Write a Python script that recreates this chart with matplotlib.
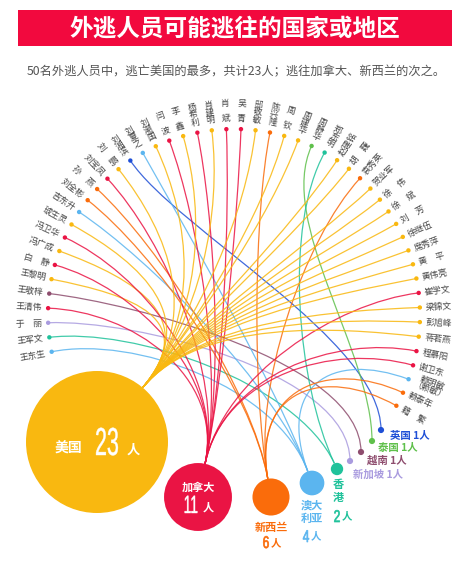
import numpy as np
import matplotlib
matplotlib.use("Agg")
import matplotlib.pyplot as plt
from matplotlib.patches import Circle, Rectangle, PathPatch
from matplotlib.path import Path
from matplotlib.textpath import TextPath
from matplotlib.font_manager import FontProperties
from matplotlib.transforms import Affine2D

plt.rcParams['font.family'] = ['Noto Sans CJK SC', 'DejaVu Sans']

# data
countries = ["美国", "加拿大", "新西兰", "澳大利亚", "香港", "新加坡", "越南", "泰国", "英国"]
counts = [23, 11, 6, 4, 2, 1, 1, 1, 1]
colors = ["#F9B810", "#EA1444", "#FA6C0B", "#5BB5EF", "#20C29B",
          "#A99BDF", "#8E4D6E", "#5FC04B", "#1F4FD6"]

names = ["王东生", "王军文", "于　丽", "王清伟", "王敬梓", "王黎明", "白　静", "冯广成", "冯卫华", "琥生灵",
         "吉东升", "刘全彬", "孙　燕", "刘宝凤", "刘　鹏", "刘湘滨", "刘夏之", "刘潮国", "闫　波", "李　鑫",
         "杨希利", "肖建明", "肖　斌", "吴　青", "邸敬敏", "陈兴隆", "周　钦", "周建华", "周静华", "郑东明",
         "赵建铭", "胡　巍", "袁秀英", "贺业军", "徐　伟", "徐　斌", "刘　芳", "徐继伍", "席秀萍", "黄　平",
         "黄伟亮", "崔学文", "梁锦文", "彭旭峰", "蒋若燕", "程慕阳", "谢卫东", "赖明敏\n（赖敏）", "赖泰年", "籍　繁"]
# destination index into countries, one per name
dest = [3, 4, 5, 1, 6, 0, 1, 0, 1, 0,
        3, 2, 2, 1, 0, 8, 3, 0, 1, 0,
        1, 0, 1, 1, 0, 2, 0, 0, 7, 4,
        0, 0, 2, 0, 0, 0, 0, 0, 0, 0,
        0, 1, 0, 0, 0, 1, 1, 3, 2, 2]

title = "外逃人员可能逃往的国家或地区"
subtitle = "50名外逃人员中，逃亡美国的最多，共计23人；逃往加拿大、新西兰的次之。"

# layout (pixel units, y down)
W, H = 474, 562
arc_c = (234, 315)
arc_r = 186
node_xy = [(97, 442), (198, 497), (271, 497), (312, 483), (337, 469),
           (350, 461), (361, 452), (372, 441), (381, 430)]
r_unit = 71 / 23
end_ang = [50, 78, 100, 110, 115, 90, 90, 90, 90]

fig = plt.figure(figsize=(W / 100, H / 100), dpi=100)
ax = fig.add_axes([0, 0, 1, 1])
ax.set_xlim(0, W)
ax.set_ylim(H, 0)
ax.axis('off')

# header
ax.add_patch(Rectangle((18, 10), 434, 36, color="#F2093E", lw=0))
ax.text(235, 28.5, title, color="white", fontsize=17, fontweight="bold",
        ha="center", va="center")
ax.text(236, 72, subtitle, color="#555555", fontsize=8.8, ha="center", va="center")

angles = np.linspace(191.4, -29.2, len(names))
text_color = "#444444"


def bezier(p0, p1, p2, p3):
    return Path([p0, p1, p2, p3], [Path.MOVETO, Path.CURVE4, Path.CURVE4, Path.CURVE4])


for nm, d, a in zip(names, dest, angles):
    t = np.deg2rad(a)
    ux, uy = np.cos(t), -np.sin(t)
    p0 = (arc_c[0] + arc_r * ux, arc_c[1] + arc_r * uy)
    cx, cy = node_xy[d]
    r = counts[d] * r_unit
    te = np.deg2rad(end_ang[d])
    ex, ey = np.cos(te), -np.sin(te)
    p3 = (cx + r * ex, cy + r * ey) if counts[d] > 1 else (cx, cy)
    p1 = (p0[0] + 0.45 * (arc_c[0] - p0[0]), p0[1] + 0.45 * (arc_c[1] - p0[1]))
    p2 = (p3[0] + 90 * ex, p3[1] + 90 * ey)
    ax.add_patch(PathPatch(bezier(p0, p1, p2, p3), fc="none", ec=colors[d],
                           lw=0.9, alpha=0.85, zorder=2))
    ax.add_patch(Circle(p0, 2.2, color=colors[d], lw=0, zorder=3))

    # name label
    lx, ly = arc_c[0] + (arc_r + 6) * ux, arc_c[1] + (arc_r + 6) * uy
    if 58 <= a <= 127:
        s = "\n".join(nm)
        ax.text(lx, ly, s, fontsize=6.3, color=text_color, rotation=a - 90,
                rotation_mode="anchor", ha="center", va="bottom", linespacing=0.8)
    elif a > 127:
        ax.text(lx, ly, nm, fontsize=6.3, color=text_color, rotation=a - 180,
                rotation_mode="anchor", ha="right", va="center")
    else:
        ax.text(lx, ly, nm, fontsize=6.3, color=text_color, rotation=a,
                rotation_mode="anchor", ha="left", va="center", multialignment="center",
                linespacing=0.9)

# destination nodes
for i, (name, n) in enumerate(zip(countries, counts)):
    ax.add_patch(Circle(node_xy[i], n * r_unit, color=colors[i], lw=0, zorder=4))

num_font = FontProperties(family="Liberation Sans", weight="normal")


def squeezed(s, x, y, px, color, sx=0.6, lw=0.0):
    # condensed number drawn as path, centred horizontally at x, baseline y
    tp = TextPath((0, 0), s, size=px, prop=num_font)
    ext = tp.get_extents()
    tr = Affine2D().translate(-(ext.x0 + ext.x1) / 2, 0).scale(sx, -1).translate(x, y)
    ax.add_patch(PathPatch(tr.transform_path(tp), fc=color, ec=color if lw else "none",
                           lw=lw, zorder=6))


# 美国
ax.text(68, 449, countries[0], color="white", fontsize=10, fontweight="bold",
        ha="center", va="center", zorder=6)
squeezed(str(counts[0]), 107, 455, 39, "white", sx=0.55, lw=0.3)
ax.text(133, 450, "人", color="white", fontsize=9.5, fontweight="bold",
        ha="center", va="center", zorder=6)

# 加拿大
ax.text(198, 487, countries[1], color="white", fontsize=8, fontweight="bold",
        ha="center", va="center", zorder=6)
squeezed(str(counts[1]), 191, 513, 25, "white", sx=0.55, lw=0.3)
ax.text(208, 507, "人", color="white", fontsize=8, fontweight="bold",
        ha="center", va="center", zorder=6)

# 新西兰
ax.text(271, 527, countries[2], color=colors[2], fontsize=8, fontweight="bold",
        ha="center", va="center")
squeezed(str(counts[2]), 266, 548, 17, colors[2], sx=0.7, lw=0.5)
ax.text(276, 543, "人", color=colors[2], fontsize=7.5, fontweight="bold", ha="center", va="center")

# 澳大利亚
ax.text(312, 512, "澳大\n利亚", color=colors[3], fontsize=8, fontweight="bold",
        ha="center", va="center", linespacing=1.0)
squeezed(str(counts[3]), 306, 542, 17, colors[3], sx=0.7, lw=0.5)
ax.text(316, 536, "人", color=colors[3], fontsize=7.5, fontweight="bold", ha="center", va="center")

# 香港
ax.text(338, 491, "香\n港", color=colors[4], fontsize=8, fontweight="bold",
        ha="center", va="center", linespacing=1.0)
squeezed(str(counts[4]), 337, 522, 17, colors[4], sx=0.7, lw=0.5)
ax.text(347, 516, "人", color=colors[4], fontsize=7.5, fontweight="bold", ha="center", va="center")

# one-person destinations
small_lbl = [(5, 353, 475), (6, 367, 461), (7, 378, 448), (8, 390, 436)]
for i, x, y in small_lbl:
    ax.text(x, y, f"{countries[i]} {counts[i]}人", color=colors[i], fontsize=7.5,
            fontweight="bold", ha="left", va="center")

fig.savefig("out.png", dpi=100, facecolor="white")
